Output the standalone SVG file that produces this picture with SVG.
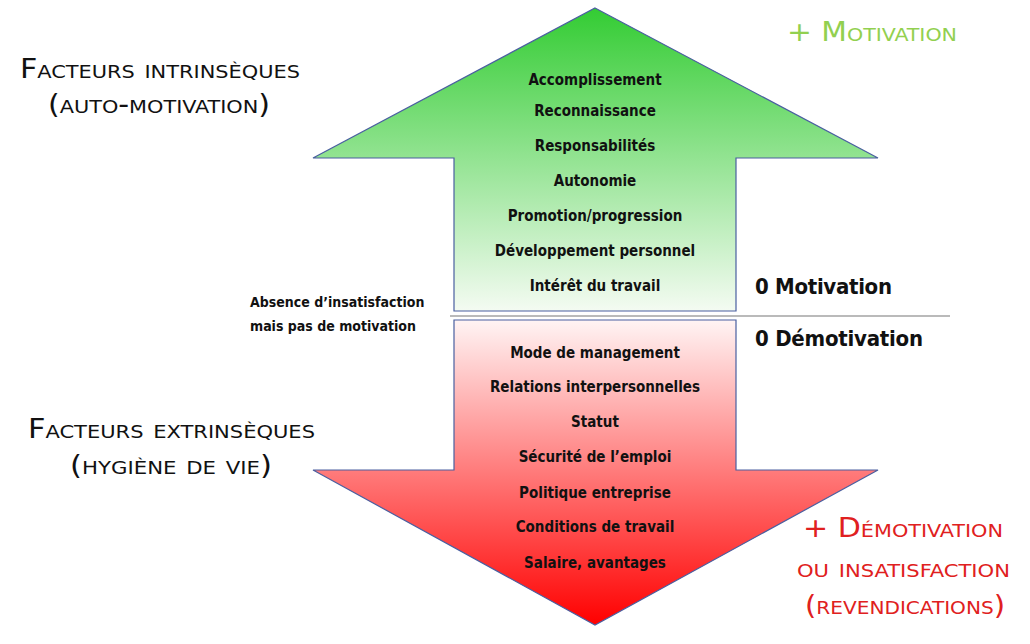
<svg xmlns="http://www.w3.org/2000/svg" width="1030" height="644" viewBox="0 0 1030 644">
<defs>
<linearGradient id="gUp" x1="0" y1="0" x2="0" y2="1"><stop offset="0" stop-color="#33cc33"/><stop offset="1" stop-color="#f4fbf2"/></linearGradient>
<linearGradient id="gDn" x1="0" y1="0" x2="0" y2="1"><stop offset="0" stop-color="#fff4f4"/><stop offset="1" stop-color="#ff0000"/></linearGradient>
<style>
.arrow{stroke:#4a5fa0;stroke-width:1.2}
.item{font-family:"DejaVu Sans Condensed","DejaVu Sans",sans-serif;font-stretch:condensed;font-weight:bold;font-size:15px;fill:#111;text-anchor:middle}
.side{font-family:"DejaVu Sans Condensed","DejaVu Sans",sans-serif;font-stretch:condensed;font-weight:bold;font-size:14px;fill:#111}
.zero{font-family:"DejaVu Sans Condensed","DejaVu Sans",sans-serif;font-stretch:condensed;font-weight:bold;font-size:22px;fill:#111}
.sc{font-family:"DejaVu Sans Condensed","DejaVu Sans",sans-serif;font-variant:small-caps;font-size:26px;fill:#111}
</style>
</defs>
<g id="arrow-up"><polygon class="arrow" fill="url(#gUp)" points="595,8 878,158 736,158 736,311 454,311 454,158 313,158"/></g>
<g id="arrow-down"><polygon class="arrow" fill="url(#gDn)" points="454,320 736,320 736,470 878,470 595,625 313,470 454,470"/></g>
<g id="connectors"><line x1="450" y1="316" x2="950" y2="316" stroke="#777" stroke-width="1.2"/></g>
<g id="up-items">
<text class="item" x="595" y="85">Accomplissement</text>
<text class="item" x="595" y="116">Reconnaissance</text>
<text class="item" x="595" y="151">Responsabilités</text>
<text class="item" x="595" y="186">Autonomie</text>
<text class="item" x="595" y="221">Promotion/progression</text>
<text class="item" x="595" y="256">Développement personnel</text>
<text class="item" x="595" y="291">Intérêt du travail</text>
</g>
<g id="down-items">
<text class="item" x="595" y="358">Mode de management</text>
<text class="item" x="595" y="392">Relations interpersonnelles</text>
<text class="item" x="595" y="427">Statut</text>
<text class="item" x="595" y="462">Sécurité de l’emploi</text>
<text class="item" x="595" y="498">Politique entreprise</text>
<text class="item" x="595" y="532">Conditions de travail</text>
<text class="item" x="595" y="568">Salaire, avantages</text>
</g>
<g id="absence"><text class="side" x="250" y="307">Absence d’insatisfaction</text><text class="side" x="250" y="331">mais pas de motivation</text></g>
<g id="zero-mot"><text class="zero" x="755" y="294" textLength="137">0 Motivation</text></g>
<g id="zero-demot"><text class="zero" x="755" y="346" textLength="168">0 Démotivation</text></g>
<g id="intr"><text class="sc" x="20" y="78" textLength="280" lengthAdjust="spacingAndGlyphs">Facteurs intrinsèques</text><text class="sc" x="48" y="113" textLength="222" lengthAdjust="spacingAndGlyphs">(auto-motivation)</text></g>
<g id="extr"><text class="sc" x="28" y="438" textLength="287" lengthAdjust="spacingAndGlyphs">Facteurs extrinsèques</text><text class="sc" x="70" y="474" textLength="202" lengthAdjust="spacingAndGlyphs">(hygiène de vie)</text></g>
<g id="plus-mot"><text class="sc" x="787" y="41" textLength="170" lengthAdjust="spacingAndGlyphs" style="fill:#92d050">+ Motivation</text></g>
<g id="plus-demot"><text class="sc" x="803" y="537" textLength="200" lengthAdjust="spacingAndGlyphs" style="fill:#e02020">+ Démotivation</text><text class="sc" x="797" y="577" textLength="213" lengthAdjust="spacingAndGlyphs" style="fill:#e02020">ou insatisfaction</text><text class="sc" x="805" y="614" textLength="200" lengthAdjust="spacingAndGlyphs" style="fill:#e02020">(revendications)</text></g>
</svg>
